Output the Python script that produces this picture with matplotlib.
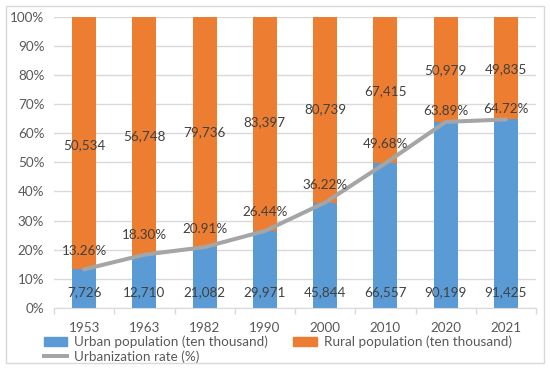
import matplotlib.pyplot as plt
from matplotlib.patches import Patch, Rectangle
from matplotlib.lines import Line2D
from matplotlib.ticker import PercentFormatter, MultipleLocator

plt.rcParams['font.family'] = ['Lato', 'DejaVu Sans']

years = ['1953', '1963', '1982', '1990', '2000', '2010', '2020', '2021']
urban = [7726, 12710, 21082, 29971, 45844, 66557, 90199, 91425]
rural = [50534, 56748, 79736, 83397, 80739, 67415, 50979, 49835]
rate = [13.26, 18.30, 20.91, 26.44, 36.22, 49.68, 63.89, 64.72]

# where the labels sit (fraction of the 100% axis)
rural_label_y = [0.56, 0.59, 0.604, 0.637, 0.683, 0.746, 0.815, 0.82]
rate_label_y = [0.195, 0.249, 0.272, 0.33, 0.422, 0.564, 0.675, 0.683]
urban_label_y = 0.054

blue = '#5B9BD5'
orange = '#ED7D31'
grey = '#A5A5A5'
grid = '#D9D9D9'
txt = '#404040'
fs = 9.7

fig = plt.figure(figsize=(5.5, 3.69), dpi=100)
ax = fig.add_axes([54 / 550, 61 / 369, 482 / 550, 291.3 / 369])

x = list(range(len(years)))
tot = [u + r for u, r in zip(urban, rural)]
u_share = [u / t for u, t in zip(urban, tot)]
r_share = [r / t for r, t in zip(rural, tot)]

ax.bar(x, u_share, width=0.4, color=blue, zorder=2)
ax.bar(x, r_share, width=0.4, bottom=u_share, color=orange, zorder=2)
ax.plot(x, [r / 100 for r in rate], color=grey, lw=2.9,
        solid_capstyle='round', zorder=3)

for i in x:
    ax.text(i, urban_label_y, f'{urban[i]:,}', ha='center', va='center',
            fontsize=fs, color=txt, zorder=4)
    ax.text(i, rural_label_y[i], f'{rural[i]:,}', ha='center', va='center',
            fontsize=fs, color=txt, zorder=4)
    ax.text(i, rate_label_y[i], f'{rate[i]:.2f}%', ha='center', va='center',
            fontsize=fs, color=txt, zorder=4)

ax.set_xlim(-0.5, len(years) - 0.5)
ax.set_ylim(0, 1)
ax.yaxis.set_major_locator(MultipleLocator(0.1))
ax.yaxis.set_major_formatter(PercentFormatter(1.0, decimals=0))
ax.set_xticks(x)
ax.set_xticklabels(years)
ax.set_xticks([i - 0.5 for i in range(len(years) + 1)], minor=True)
ax.tick_params(axis='x', which='major', length=0, pad=10, labelsize=fs,
               labelcolor='#595959')
ax.tick_params(axis='x', which='minor', length=4, color=grid, width=1)
ax.tick_params(axis='y', length=0, pad=7, labelsize=fs, labelcolor='#595959')
ax.grid(axis='y', color=grid, lw=1, zorder=0)
for s in ['top', 'right', 'left']:
    ax.spines[s].set_visible(False)
ax.spines['bottom'].set_color(grid)

handles = [Patch(color=blue), Line2D([], [], color=grey, lw=2.9),
           Patch(color=orange)]
labels = ['Urban population (ten thousand)', 'Urbanization rate (%)',
          'Rural population (ten thousand)']
fig.legend(handles, labels, ncol=2, loc='center', bbox_to_anchor=(0.505, 0.053),
           frameon=False, fontsize=fs, labelcolor='#595959', handlelength=1.75,
           handleheight=0.7, handletextpad=0.5, columnspacing=1.9,
           labelspacing=0.15, borderpad=0)

fig.add_artist(Rectangle((6 / 550, 6 / 369), 538 / 550, 357 / 369,
                         transform=fig.transFigure, fill=False, ec=grid, lw=1))

plt.savefig('out.png', dpi=100)
